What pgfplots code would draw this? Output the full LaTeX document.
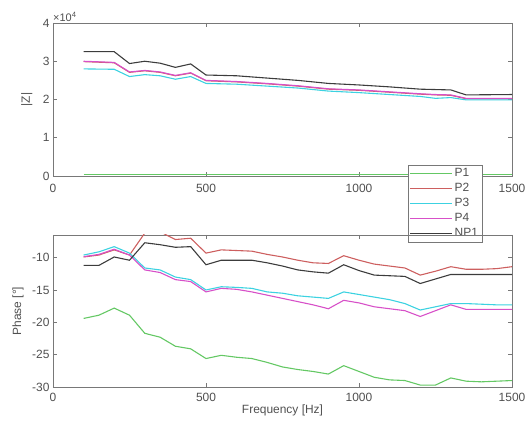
\documentclass[border=0pt]{standalone}
\usepackage{pgfplots}
\pgfplotsset{compat=1.18}
\usepackage{fontspec}
\setmainfont{Liberation Sans}
\definecolor{cP1}{RGB}{100,200,100}
\definecolor{cP2}{RGB}{205,95,95}
\definecolor{cP3}{RGB}{60,210,225}
\definecolor{cP4}{RGB}{215,80,200}
\definecolor{cNP}{RGB}{60,60,60}
\definecolor{txt}{RGB}{80,80,80}
\definecolor{axc}{RGB}{120,120,120}
\pgfplotsset{
  mystyle/.style={
    scale only axis, width=459bp,
    xmin=0, xmax=1500,
    xtick={0,500,1000,1500},
    tick align=inside,
    major tick length=4bp,
    axis line style={axc, line width=0.8pt},
    every tick/.style={axc, line width=0.6pt},
    tick label style={font=\fontsize{12}{14}\selectfont, text=txt},
    label style={font=\fontsize{12}{14}\selectfont, text=txt},
    /pgf/number format/assume math mode=true,
    /pgf/number format/set thousands separator={},
    every axis plot/.append style={line width=1.1pt},
  }
}
\begin{document}
\begin{tikzpicture}
\path (-53bp,-42bp) rectangle (476bp,387bp);
\begin{axis}[mystyle, at={(0,211bp)}, height=153bp,
  ymin=0, ymax=40000, ytick={0,10000,20000,30000,40000},
  yticklabels={0,1,2,3,4},
  scaled y ticks=false,
  xticklabel style={yshift=-5bp},
  ylabel={|Z|},
  ylabel style={at={(axis description cs:-0.057,0.5)}, anchor=center},
  legend style={at={(axis description cs:0.935,0.075)}, anchor=north east,
    draw=axc, fill=white, font=\fontsize{12}{14}\selectfont, text=txt,
    inner sep=2bp, row sep=1.2bp},
  legend cell align=left,
  legend image code/.code={\draw[#1, line width=0.9pt] (0bp,0bp) -- (42bp,0bp);},
  clip=false,
]
\node[anchor=south west, inner sep=0pt, yshift=1bp, font=\fontsize{11}{13}\selectfont, text=txt] at (rel axis cs:0,1) {×10\textsuperscript{4}};
\addplot[cP1, legend image post style={draw=cP1}] coordinates {(100,350) (1500,350)};
\addlegendentry{P1}
\addplot[cP2, legend image post style={draw=cP2}] coordinates {(100,29900) (200,29600) (250,27100) (300,27500) (350,27100) (400,26200) (450,26900) (500,24900) (600,24600) (700,24100) (800,23500) (900,22700) (1000,22400) (1100,21900) (1200,21400) (1250,21200) (1300,21100) (1350,20200) (1500,20200)};
\addlegendentry{P2}
\addplot[cP3, legend image post style={draw=cP3}] coordinates {(100,28000) (200,27900) (250,26000) (300,26500) (350,26200) (400,25300) (450,26000) (500,24200) (600,24000) (700,23500) (800,23000) (900,22200) (1000,21800) (1100,21300) (1200,20800) (1250,20300) (1300,20500) (1350,19900) (1500,19900)};
\addlegendentry{P3}
\addplot[cP4, legend image post style={draw=cP4}] coordinates {(100,30000) (200,29700) (250,27200) (300,27600) (350,27200) (400,26300) (450,27000) (500,25000) (600,24700) (700,24200) (800,23600) (900,22800) (1000,22500) (1100,22000) (1200,21500) (1250,21300) (1300,21200) (1350,20300) (1500,20300)};
\addlegendentry{P4}
\addplot[cNP, legend image post style={draw=cNP}] coordinates {(100,32500) (200,32500) (250,29400) (300,30000) (350,29500) (400,28400) (450,29300) (500,26400) (600,26200) (700,25600) (800,25000) (900,24200) (1000,23800) (1100,23300) (1200,22700) (1250,22600) (1300,22500) (1350,21200) (1500,21300)};
\addlegendentry{NP1}
\end{axis}
\begin{axis}[mystyle, at={(0,0)}, height=152bp,
  ymin=-30, ymax=-6.5, ytick={-30,-25,-20,-15,-10},
  xticklabel style={yshift=-3bp},
  xlabel={Frequency [Hz]},
  xlabel style={yshift=4bp},
  ylabel={Phase [°]},
  ylabel style={at={(axis description cs:-0.076,0.5)}, anchor=center},
]
\addplot[cP1] coordinates {(100,-19.4) (150,-18.9) (200,-17.8) (250,-18.9) (300,-21.7) (350,-22.3) (400,-23.7) (450,-24.1) (500,-25.6) (550,-25.1) (600,-25.4) (650,-25.6) (700,-26.2) (750,-26.9) (800,-27.3) (850,-27.6) (900,-28.0) (950,-26.7) (1000,-27.6) (1050,-28.5) (1100,-28.9) (1150,-29.0) (1200,-29.7) (1250,-29.7) (1300,-28.6) (1350,-29.1) (1400,-29.2) (1450,-29.1) (1500,-29.0)};
\addplot[cP2] coordinates {(100,-9.9) (150,-9.6) (200,-8.8) (250,-9.6) (300,-6.2) (350,-6.0) (400,-7.2) (450,-7.0) (500,-9.3) (550,-8.8) (600,-8.9) (650,-9.0) (700,-9.5) (750,-9.9) (800,-10.4) (850,-10.8) (900,-10.9) (950,-9.7) (1000,-10.4) (1050,-11.0) (1100,-11.3) (1150,-11.6) (1200,-12.7) (1250,-12.1) (1300,-11.4) (1350,-11.8) (1400,-11.8) (1450,-11.7) (1500,-11.4)};
\addplot[cP3] coordinates {(100,-9.6) (150,-9.1) (200,-8.3) (250,-9.3) (300,-11.6) (350,-11.9) (400,-13.0) (450,-13.4) (500,-15.0) (550,-14.5) (600,-14.6) (650,-14.75) (700,-15.3) (750,-15.5) (800,-15.9) (850,-16.1) (900,-16.3) (950,-15.3) (1000,-15.7) (1050,-16.1) (1100,-16.5) (1150,-17.1) (1200,-18.1) (1250,-17.6) (1300,-17.1) (1350,-17.1) (1400,-17.2) (1450,-17.3) (1500,-17.3)};
\addplot[cP4] coordinates {(100,-9.85) (150,-9.5) (200,-8.7) (250,-9.6) (300,-11.9) (350,-12.3) (400,-13.4) (450,-13.7) (500,-15.3) (550,-14.75) (600,-14.9) (650,-15.3) (700,-15.8) (750,-16.3) (800,-16.8) (850,-17.3) (900,-17.9) (950,-16.6) (1000,-17.0) (1050,-17.6) (1100,-17.9) (1150,-18.2) (1200,-19.1) (1250,-18.2) (1300,-17.3) (1350,-18.0) (1400,-18.0) (1450,-18.0) (1500,-18.0)};
\addplot[cNP] coordinates {(100,-11.2) (150,-11.2) (200,-9.9) (250,-10.4) (300,-7.7) (350,-8.0) (400,-8.4) (450,-8.3) (500,-11.1) (550,-10.4) (600,-10.4) (650,-10.4) (700,-10.8) (750,-11.3) (800,-11.9) (850,-12.2) (900,-12.4) (950,-11.1) (1000,-12.0) (1050,-12.7) (1100,-12.8) (1150,-12.9) (1200,-14.0) (1250,-13.3) (1300,-12.6) (1350,-12.6) (1400,-12.6) (1450,-12.6) (1500,-12.6)};
\end{axis}
\end{tikzpicture}
\end{document}
